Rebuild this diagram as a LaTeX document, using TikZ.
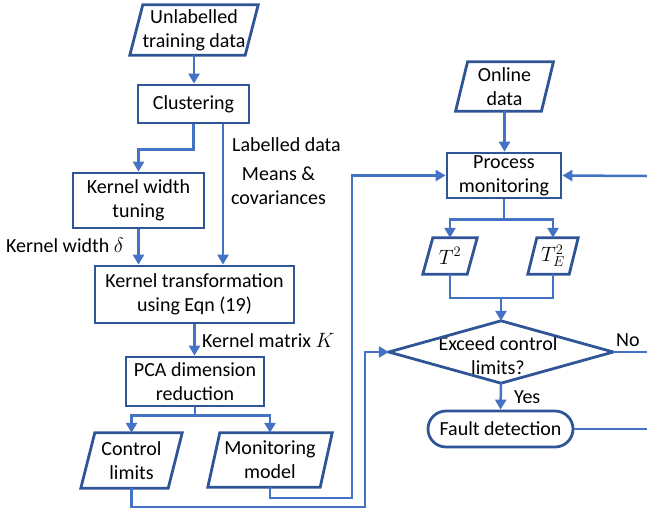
\documentclass[tikz,border=0pt]{standalone}
\usepackage{fontspec}
\setmainfont{Carlito}
\usetikzlibrary{arrows.meta}
\definecolor{boxc}{HTML}{2F5597}
\definecolor{linec}{HTML}{4472C4}
\newcommand\mypgram[2]{\draw[boxline] ([xshift=#2pt]#1.north west) -- ([xshift=#2pt]#1.north east) -- ([xshift=-#2pt]#1.south east) -- ([xshift=-#2pt]#1.south west) -- cycle;}
\tikzset{
  boxline/.style={draw=boxc, line width=2.8pt, line join=miter},
  rectbox/.style={boxline, rectangle, inner sep=0pt, align=center, fill=white},
  ghost/.style={rectangle, inner sep=0pt, align=center, draw=none},
  conn/.style={draw=linec, line width=2.5pt},
  arr/.style={conn, -{Triangle[length=10pt,width=11pt]}},
  lbl/.style={inner sep=0pt, anchor=west, align=left},
}
\begin{document}
\begin{tikzpicture}[x=1pt, y=-1pt, font=\fontsize{20}{24}\selectfont]
\useasboundingbox (0,0) rectangle (647,512);
% nodes
\node[ghost, minimum width=115pt, minimum height=50pt] (u) at (194,30) {Unlabelled\\training data};
\node[rectbox, minimum width=111pt, minimum height=38pt] (clu) at (193.5,104) {Clustering};
\node[rectbox, minimum width=131pt, minimum height=55pt] (kwt) at (138.5,200.5) {Kernel width\\tuning};
\node[rectbox, minimum width=199pt, minimum height=57pt] (kt) at (194.5,294.5) {Kernel transformation\\using Eqn (19)};
\node[rectbox, minimum width=138pt, minimum height=49pt] (pca) at (195,381.5) {PCA dimension\\reduction};
\node[ghost, minimum width=87pt, minimum height=55pt] (cl) at (131.5,460.5) {Control\\limits};
\node[ghost, minimum width=112pt, minimum height=54pt] (mm) at (270,460) {Monitoring\\model};
\node[ghost, minimum width=85.5pt, minimum height=49pt] (od) at (504.5,86.5) {Online\\data};
\node[rectbox, minimum width=114pt, minimum height=45pt] (pm) at (504,175.5) {Process\\monitoring};
\node[ghost, minimum width=44pt, minimum height=36pt] (t2) at (450,256) {$T^2$};
\node[ghost, minimum width=41pt, minimum height=36pt] (te) at (553,256) {$T_E^2$};
\node[ghost, minimum width=224pt, minimum height=62pt] (dia) at (501,352) {};
\node[ghost] (diat) at (498,356) {Exceed control\\limits?};
\node[rectbox, rounded corners=18pt, minimum width=145pt, minimum height=36pt] (fd) at (500.5,429) {Fault detection};
% shapes
\mypgram{u}{6.5}
\mypgram{cl}{7}
\mypgram{mm}{6}
\mypgram{od}{6}
\mypgram{t2}{5}
\mypgram{te}{4.5}
\draw[boxline] (dia.north) -- (dia.east) -- (dia.south) -- (dia.west) -- cycle;
% junction coordinates
\coordinate (j1) at (365,507);
\coordinate (j2) at (352,498);
\coordinate (j3) at (501,298);
\coordinate (e1) at (647,176);
\coordinate (e2) at (647,352);
\coordinate (e3) at (647,429);
% connectors
\draw[arr] (u.south) -- (u.south |- clu.north);
\draw[arr] (clu.south) -- ++(0,25) -| (kwt.north);
\draw[arr] ([xshift=29.5pt]clu.south) -- ([xshift=29.5pt]clu.south |- kt.north);
\draw[arr] (kwt.south) -- (kwt.south |- kt.north);
\draw[arr] (kt.south) -- (kt.south |- pca.north);
\draw[arr] (pca.south) -- ++(0,8) -| (cl.north);
\draw[arr] (pca.south) -- ++(0,8) -| (mm.north);
\draw[arr] (cl.south) |- (j1) |- (dia.west);
\draw[arr] (mm.south) |- (j2) |- (pm.west);
\draw[arr] (od.south) -- (od.south |- pm.north);
\draw[arr] (e1) -- (pm.east);
\draw[arr] (pm.south) -- ++(0,20) -| (t2.north);
\draw[arr] (pm.south) -- ++(0,20) -| (te.north);
\draw[conn] (t2.south) |- (j3) -| (te.south);
\draw[arr] (j3) -- (dia.north);
\draw[arr] (dia.south) -- (fd.north);
\draw[conn] (dia.east) -- (e2);
\draw[conn] (fd.east) -- (e3);
% labels
\node[lbl] (l1) at (232,145) {Labelled data};
\node[inner sep=0pt, align=center] (l2) at (278.5,185.5) {Means \&\\covariances};
\node[lbl] (l3) at (6,245) {Kernel width $\delta$};
\node[lbl] (l4) at (202,340) {Kernel matrix $K$};
\node[lbl] (l5) at (616,340) {No};
\node[lbl] (l6) at (514,397) {Yes};
\end{tikzpicture}
\end{document}
